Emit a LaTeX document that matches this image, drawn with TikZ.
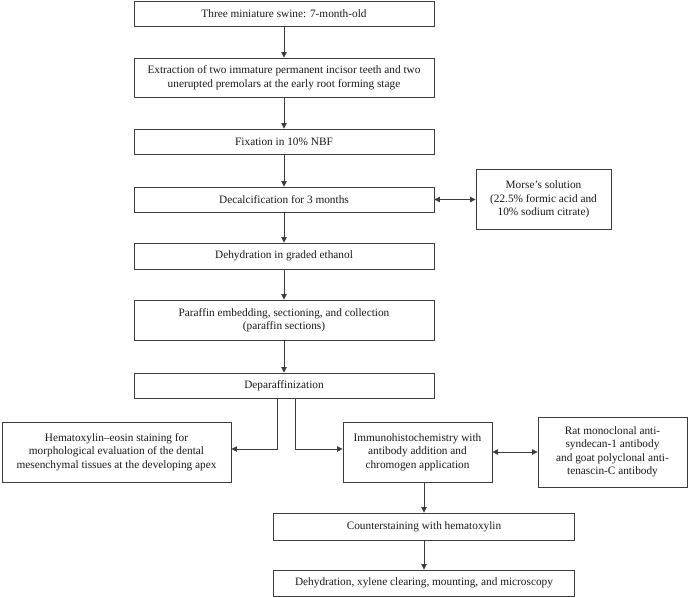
\documentclass[tikz,border=0pt]{standalone}
\usepackage{fontspec}
\setmainfont{Liberation Serif}
\usetikzlibrary{arrows.meta}
\definecolor{linec}{RGB}{60,60,60}
\definecolor{textc}{RGB}{25,25,25}
\tikzset{
  stepbox/.style={draw=linec, line width=0.9pt, fill=white, inner sep=0pt, align=center,
    text=textc, font=\fontsize{11.3pt}{13.5pt}\selectfont},
  conn/.style={draw=linec, line width=0.8pt, -{Triangle[length=5.5pt,width=5.5pt]}},
  dconn/.style={draw=linec, line width=0.8pt, {Triangle[length=5.5pt,width=5.5pt]}-{Triangle[length=5.5pt,width=5.5pt]}}
}
\begin{document}
\begin{tikzpicture}[x=1pt,y=-1pt]
\useasboundingbox (0,0) rectangle (688,597);
\node[stepbox, minimum width=300pt, minimum height=25pt] (b1) at (284,13.5) {Three miniature swine: 7-month-old};
\node[stepbox, minimum width=300pt, minimum height=39pt] (b2) at (284,77.5) {Extraction of two immature permanent incisor teeth and two\\unerupted premolars at the early root forming stage};
\node[stepbox, minimum width=300pt, minimum height=25pt] (b3) at (284,141.5) {Fixation in 10\% NBF};
\node[stepbox, minimum width=300pt, minimum height=25pt] (b4) at (284,199.5) {Decalcification for 3 months};
\node[stepbox, minimum width=135pt, minimum height=60pt] (morse) at (543.5,199.5) {Morse’s solution\\(22.5\% formic acid and\\10\% sodium citrate)};
\node[stepbox, minimum width=300pt, minimum height=26pt] (b5) at (284,256) {Dehydration in graded ethanol};
\node[stepbox, minimum width=300pt, minimum height=40pt] (b6) at (284,320) {Paraffin embedding, sectioning, and collection\\(paraffin sections)};
\node[stepbox, minimum width=300pt, minimum height=25pt] (b7) at (284,385.5) {Deparaffinization};
\node[stepbox, minimum width=229pt, minimum height=60pt] (he) at (116.5,452) {Hematoxylin–eosin staining for\\morphological evaluation of the dental\\mesenchymal tissues at the developing apex};
\node[stepbox, minimum width=149pt, minimum height=60pt] (ihc) at (417.5,452) {Immunohistochemistry with\\antibody addition and\\chromogen application};
\node[stepbox, minimum width=149pt, minimum height=70pt] (rat) at (612.5,452) {Rat monoclonal anti-\\syndecan-1 antibody\\and goat polyclonal anti-\\tenascin-C antibody};
\node[stepbox, minimum width=301pt, minimum height=27pt] (cs) at (424,526.5) {Counterstaining with hematoxylin};
\node[stepbox, minimum width=301pt, minimum height=26pt] (fin) at (424,583) {Dehydration, xylene clearing, mounting, and microscopy};

\draw[conn] (b1) -- (b2);
\draw[conn] (b2) -- (b3);
\draw[conn] (b3) -- (b4);
\draw[conn] (b4) -- (b5);
\draw[conn] (b5) -- (b6);
\draw[conn] (b6) -- (b7);
\draw[dconn] (b4) -- (morse);
\draw[conn] ([xshift=-7pt]b7.south) |- ([yshift=3pt]he.east);
\draw[conn] ([xshift=11pt]b7.south) |- ([yshift=3pt]ihc.west);
\draw[dconn] (ihc) -- (rat);
\draw[conn] (ihc.south -| cs.north) -- (cs.north);
\draw[conn] (cs) -- (fin);
\end{tikzpicture}
\end{document}
